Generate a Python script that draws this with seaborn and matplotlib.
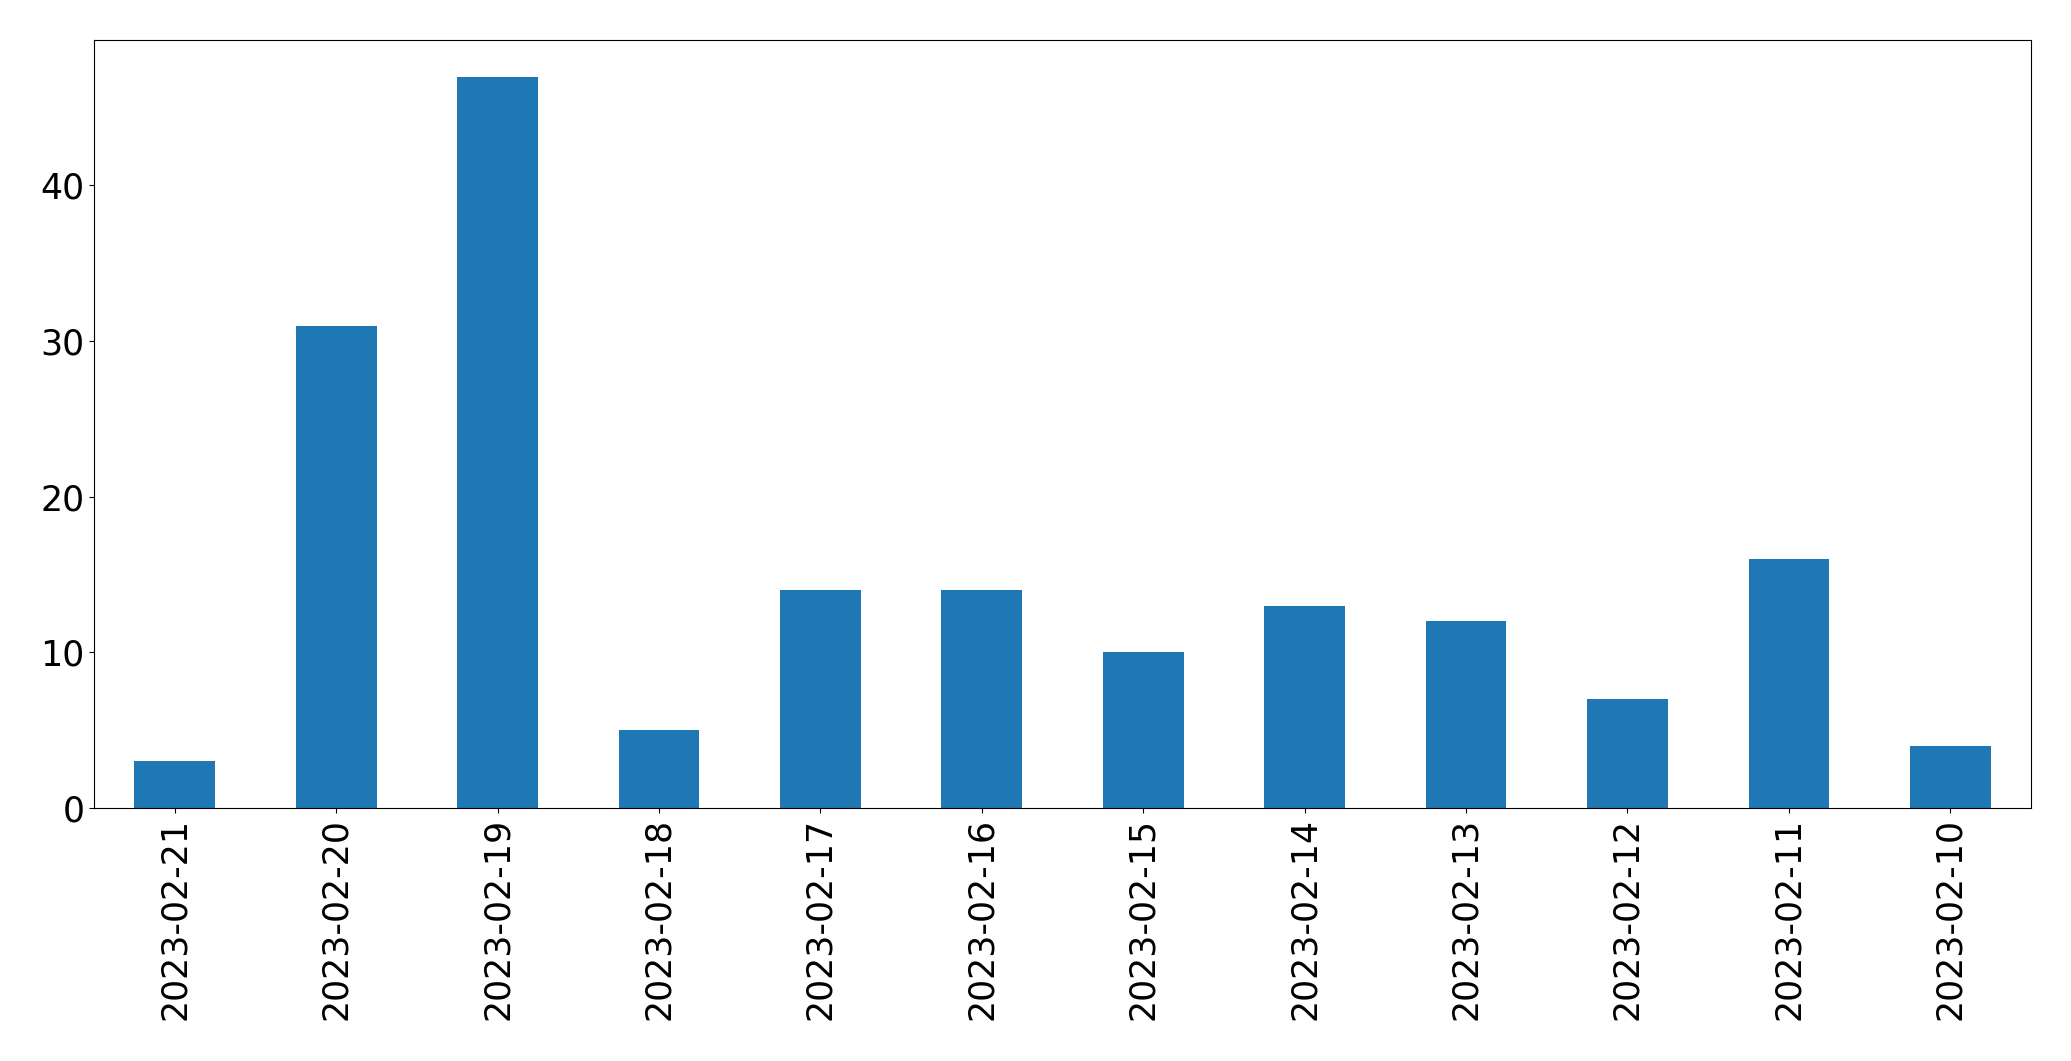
import matplotlib
matplotlib.use("Agg")
import matplotlib.pyplot as plt
import pandas as pd
import seaborn as sns

dates = ["2023-02-21", "2023-02-20", "2023-02-19", "2023-02-18", "2023-02-17", "2023-02-16",
         "2023-02-15", "2023-02-14", "2023-02-13", "2023-02-12", "2023-02-11", "2023-02-10"]
counts = [3, 31, 47, 5, 14, 14, 10, 13, 12, 7, 16, 4]

df = pd.DataFrame({"date": dates, "count": counts})

fig, ax = plt.subplots(figsize=(20.71, 10.61), dpi=100)
sns.barplot(data=df, x="date", y="count", order=dates, color="#1f77b4",
            saturation=1, width=0.5, ax=ax)

ax.set_xlim(-0.5, len(dates) - 0.5)
ax.set_ylim(0, max(counts) * 1.05)
ax.set_xlabel("")
ax.set_ylabel("")
ax.tick_params(axis="both", labelsize=25)
ax.tick_params(axis="x", labelrotation=90)

plt.subplots_adjust(left=0.0454, right=0.9807, top=0.9623, bottom=0.2385)
fig.savefig("out.png", dpi=100)
